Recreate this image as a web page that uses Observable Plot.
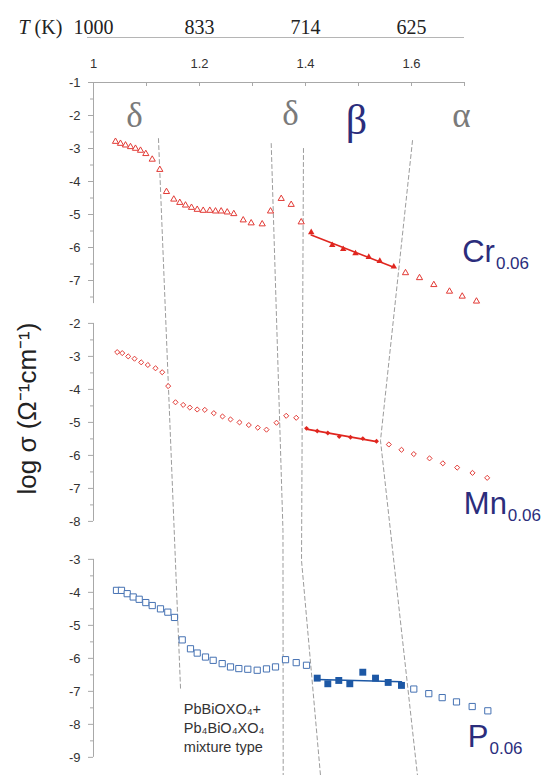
<!DOCTYPE html>
<html><head><meta charset="utf-8">
<script src="https://cdn.jsdelivr.net/npm/d3@7"></script>
<script src="https://cdn.jsdelivr.net/npm/@observablehq/plot@0.6"></script>
<style>
html,body{margin:0;padding:0;background:#fff;}
#chart{width:543px;height:775px;overflow:hidden;}
</style></head><body><div id="chart"></div>
<script>
// ---------- data (x = 1000/T in K^-1, y = log sigma) ----------
const crOpenX = [1.0415,1.0509,1.0604,1.0698,1.0792,1.0887,1.0987,1.1108,1.1251,
  1.1377,1.1515,1.1628,1.1736,1.1849,1.1957,1.2070,1.2194,1.2302,1.2409,1.2523,1.2647,1.2825,1.2975,1.3183,
  1.3340,1.3542,1.3730,1.3919,
  1.5887,1.6151,1.6421,1.6717,1.6957,1.7226];
const crOpenY = [-2.79,-2.85,-2.90,-2.95,-3.00,-3.06,-3.16,-3.33,-3.64,
  -4.31,-4.54,-4.64,-4.72,-4.79,-4.85,-4.88,-4.88,-4.90,-4.90,-4.93,-4.98,-5.17,-5.26,-5.29,
  -4.90,-4.52,-4.70,-5.23,
  -6.77,-6.92,-7.13,-7.33,-7.48,-7.63];
const crBetaX = [1.4108,1.4504,1.4711,1.4943,1.5194,1.5402,1.5666];
const crBetaY = [-5.54,-5.93,-6.05,-6.18,-6.29,-6.41,-6.58];

const mnOpenX = [1.0447,1.0542,1.0655,1.0774,1.0900,1.1025,1.1170,1.1296,1.1409,
  1.1547,1.1692,1.1817,1.1957,1.2100,1.2270,1.2434,1.2585,1.2755,1.2930,1.3100,1.3264,
  1.3453,1.3636,1.3825,
  1.5572,1.5811,1.6043,1.6340,1.6591,1.6862,1.7151,1.7428];
const mnOpenY = [-2.87,-2.90,-3.00,-3.07,-3.18,-3.26,-3.36,-3.48,-3.90,
  -4.39,-4.47,-4.55,-4.61,-4.62,-4.72,-4.82,-4.91,-5.00,-5.08,-5.16,-5.22,
  -5.01,-4.80,-4.86,
  -5.67,-5.83,-5.96,-6.09,-6.24,-6.37,-6.53,-6.68];
const mnBetaX = [1.4019,1.4221,1.4421,1.4636,1.4849,1.5081,1.5340];
const mnBetaY = [-5.18,-5.26,-5.32,-5.43,-5.45,-5.49,-5.57];

const pOpenX = [1.0434,1.0528,1.0636,1.0749,1.0862,1.0987,1.1108,1.1264,1.1402,1.1528,
  1.1674,1.1830,1.1957,1.2113,1.2258,1.2428,1.2585,1.2742,1.2911,1.3089,1.3264,1.3434,
  1.3623,1.3825,1.4019,
  1.6043,1.6326,1.6579,1.6849,1.7145,1.7440];
const pOpenY = [-3.94,-3.94,-4.04,-4.14,-4.21,-4.31,-4.40,-4.50,-4.60,-4.76,
  -5.44,-5.71,-5.84,-5.96,-6.06,-6.16,-6.26,-6.31,-6.33,-6.36,-6.32,-6.26,
  -6.04,-6.13,-6.21,
  -6.93,-7.07,-7.19,-7.32,-7.46,-7.59];
const pBetaX = [1.4221,1.4421,1.4628,1.4836,1.5081,1.5321,1.5560,1.5811];
const pBetaY = [-6.60,-6.77,-6.67,-6.77,-6.42,-6.60,-6.73,-6.82];

// phase boundaries (x, panel index, log sigma in that panel)
const guideA = [[1.1226,0,-2.70],[1.1642,2,-6.91]];
const guideB = [[1.3353,0,-2.85],[1.3575,1,-8.28],[1.3579,2,-9.55]];
const guideC = [[1.3962,0,-3.00],[1.3925,2,-3.035],[1.4283,2,-9.55]];
const guideD = [[1.6019,0,-2.76],[1.5415,1,-5.55],[1.6113,2,-9.55]];

// axis ticks
const topTicks = [1, 1.2, 1.4, 1.6];
const topMinor = [1, 1.1, 1.2, 1.3, 1.4, 1.5, 1.6, 1.7];
const panelRange = [[-1, -7.7], [-2, -8], [-3, -9]];
const panelTicks = [[-1,-2,-3,-4,-5,-6,-7], [-2,-3,-4,-5,-6,-7,-8], [-3,-4,-5,-6,-7,-8,-9]];
const panelMinor = [[-1.5,-2.5,-3.5,-4.5,-5.5,-6.5,-7.5], [-2.5,-3.5,-4.5,-5.5,-6.5,-7.5], [-3.5,-4.5,-5.5,-6.5,-7.5,-8.5]];

// labels
const phaseText = ["δ", "δ", "β", "α"];
const phaseX = [1.0774, 1.3717, 1.4962, 1.6943];
const phaseY = [-2.36, -2.30, -2.55, -2.36];
const seriesName = ["Cr", "Mn", "P"];
const seriesSub = ["0.06", "0.06", "0.06"];
const seriesX = [1.6957, 1.6987, 1.7062];
const seriesY = [-6.445, -7.77, -8.69];
const annotText = "PbBiOXO\u2084+\nPb\u2084BiO\u2084XO\u2084\nmixture type";
const annotX = 1.1704, annotY = -8.85;
const yTitle = "log σ (Ω\u207B\u00B9cm\u207B\u00B9)";

// ---------- layout: stacked panels share one y scale with offsets ----------
const OFF = [0, 6.3, 12.45];
const rows = (xs, ys, p) => xs.map((x, i) => ({x, y: ys[i] - OFF[p]}));
const guides = [guideA, guideB, guideC, guideD].flatMap((g, id) =>
  g.map(([x, p, v]) => ({id, x, y: v - OFF[p]})));

const red = "#e23a35", redDark = "#e0261f", blue = "#4672b3", blueDark = "#1d58a5";
const navy = "#2b2d7c", grey = "#7a7a7a", axisGrey = "#a8a8a8";
const sans = "Liberation Sans, Arial, sans-serif", serif = "Liberation Serif, Times New Roman, serif";

const ctx = document.createElement("canvas").getContext("2d");
const tw = (s, font) => { ctx.font = font; return ctx.measureText(s).width; };

const marks = [];
// guide lines
marks.push(Plot.line(guides, {x: "x", y: "y", z: "id", stroke: "#9c9c9c", strokeWidth: 1, strokeDasharray: "4,3"}));
// top axes
marks.push(Plot.ruleY([-1], {stroke: axisGrey}));
marks.push(Plot.ruleX(topMinor, {x: d => d, y1: -1, y2: -1, insetBottom: -4, stroke: axisGrey}));
marks.push(Plot.axisX({anchor: "top", ticks: topTicks, tickSize: 0, tickPadding: 15, label: null,
  tickFormat: d => String(+d.toFixed(1)), fill: "#333", fontSize: 13, fontFamily: sans}));
marks.push(Plot.ruleY([-1], {dy: -45, insetLeft: -6, stroke: "#b5b5b5"}));
marks.push(Plot.axisX({anchor: "top", ticks: topTicks, tickSize: 0, tickPadding: 49, label: null,
  tickFormat: d => String(Math.round(1000 / d)), fill: "#222", fontSize: 20, fontFamily: serif}));
marks.push(Plot.text(["T"], {frameAnchor: "top-left", text: d => d, dx: -75, dy: -49, lineAnchor: "bottom",
  textAnchor: "start", fontStyle: "italic", fontFamily: serif, fontSize: 20, fill: "#222"}));
marks.push(Plot.text(["(K)"], {frameAnchor: "top-left", text: d => d, dx: -75 + tw("T ", `italic 20px ${serif}`) , dy: -49,
  lineAnchor: "bottom", textAnchor: "start", fontFamily: serif, fontSize: 20, fill: "#222"}));
// left axes for the three panels
panelRange.forEach(([a, b], p) => {
  marks.push(Plot.ruleX([1], {x: d => d, y1: a - OFF[p], y2: b - OFF[p], stroke: axisGrey}));
  marks.push(Plot.axisY({ticks: panelTicks[p].map(v => v - OFF[p]), tickSize: 5, tickPadding: 8, label: null,
    tickFormat: d => String(Math.round(d + OFF[p])), stroke: axisGrey, fill: "#333", fontSize: 13, fontFamily: sans}));
  marks.push(Plot.axisY({ticks: panelMinor[p].map(v => v - OFF[p]), tickSize: 3, label: null,
    tickFormat: () => "", stroke: axisGrey}));
});
marks.push(Plot.text([yTitle], {frameAnchor: "left", y: () => -4.58 - OFF[1], text: d => d, dx: -66, rotate: -90,
  textAnchor: "middle", lineAnchor: "middle", fontSize: 26, fontFamily: sans, fill: "#222"}));
// data
const crO = rows(crOpenX, crOpenY, 0), crB = rows(crBetaX, crBetaY, 0);
const mnO = rows(mnOpenX, mnOpenY, 1), mnB = rows(mnBetaX, mnBetaY, 1);
const pO = rows(pOpenX, pOpenY, 2), pB = rows(pBetaX, pBetaY, 2);
marks.push(Plot.dot(crO, {x: "x", y: "y", symbol: "triangle", r: 2.3, stroke: red, fill: "white", strokeWidth: 1}));
marks.push(Plot.linearRegressionY(crB, {x: "x", y: "y", ci: 0, stroke: redDark, strokeWidth: 1.6}));
marks.push(Plot.dot(crB, {x: "x", y: "y", symbol: "triangle", r: 2.4, fill: redDark}));
marks.push(Plot.dot(mnO, {x: "x", y: "y", symbol: "diamond2", r: 2.3, stroke: red, fill: "white", strokeWidth: 1}));
marks.push(Plot.linearRegressionY(mnB, {x: "x", y: "y", ci: 0, stroke: redDark, strokeWidth: 1.6}));
marks.push(Plot.dot(mnB, {x: "x", y: "y", symbol: "diamond2", r: 2.2, fill: redDark}));
marks.push(Plot.dot(pO, {x: "x", y: "y", symbol: "square", r: 3.5, stroke: blue, fill: "white", strokeWidth: 1}));
marks.push(Plot.linearRegressionY(pB, {x: "x", y: "y", ci: 0, stroke: blueDark, strokeWidth: 1.6}));
marks.push(Plot.dot(pB, {x: "x", y: "y", symbol: "square", r: 3.9, fill: blueDark}));
// phase labels
marks.push(Plot.text(phaseText.map((t, i) => ({t, x: phaseX[i], y: phaseY[i]})).filter(d => d.t !== "β"),
  {x: "x", y: "y", text: "t", lineAnchor: "bottom", fontSize: 35, fontFamily: serif, fill: grey}));
marks.push(Plot.text(phaseText.map((t, i) => ({t, x: phaseX[i], y: phaseY[i]})).filter(d => d.t === "β"),
  {x: "x", y: "y", text: "t", lineAnchor: "bottom", fontSize: 42, fontFamily: serif, fill: navy}));
// series labels with subscripts
seriesName.forEach((n, i) => {
  const d = [{n, s: seriesSub[i], x: seriesX[i], y: seriesY[i] - OFF[i]}];
  marks.push(Plot.text(d, {x: "x", y: "y", text: "n", textAnchor: "start", lineAnchor: "bottom",
    fontSize: 31, fontFamily: sans, fill: navy}));
  marks.push(Plot.text(d, {x: "x", y: "y", text: "s", textAnchor: "start", lineAnchor: "bottom",
    dx: tw(n, `31px ${sans}`) + 1, dy: 6.7, fontSize: 17, fontFamily: sans, fill: navy}));
});
// annotation
marks.push(Plot.text([annotText], {x: () => annotX, y: () => annotY - OFF[2], text: d => d, textAnchor: "start",
  lineAnchor: "bottom", lineHeight: 1.31, fontSize: 14.5, fontFamily: sans, fill: "#333"}));

const chart = Plot.plot({
  width: 543, height: 775,
  marginLeft: 93, marginRight: 79, marginTop: 82, marginBottom: 0,
  x: {domain: [1, 1.7], label: null},
  y: {domain: [-22, -1], label: null},
  style: {fontFamily: sans, fontSize: "13px", background: "white", overflow: "visible"},
  marks
});
document.getElementById("chart").append(chart);
</script></body></html>
